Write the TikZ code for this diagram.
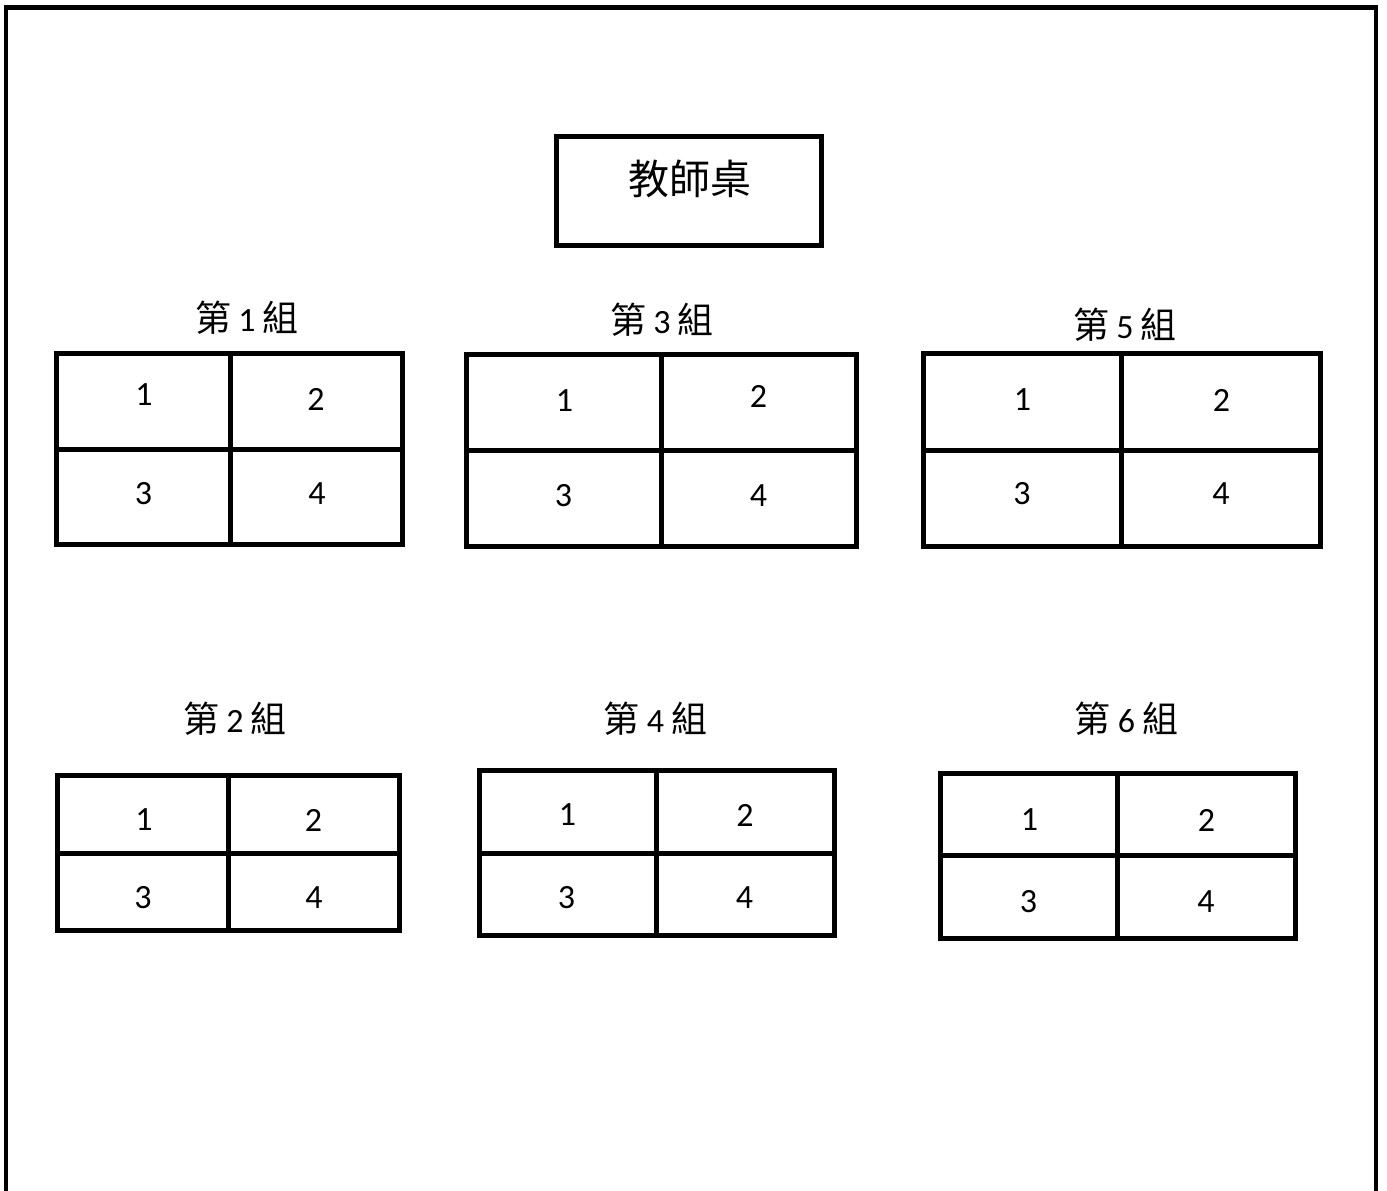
\documentclass[tikz,border=0pt]{standalone}
\usepackage{fontspec}
\setmainfont{Carlito}[Numbers=Lining]
\newfontfamily\cjk{Noto Sans CJK TC}
\begin{document}
\begin{tikzpicture}[x=1pt,y=-1pt,
  frame/.style={line width=4.5pt,line cap=butt},
  desk/.style={line width=5pt,line join=miter},
  seatnum/.style={inner sep=0pt,font=\fontsize{34}{34}\selectfont},
  grouplabel/.style={inner sep=0pt,font=\fontsize{34}{36}\selectfont},
  teacher/.style={inner sep=0pt,font=\cjk\fontsize{41}{41}\selectfont}]
\useasboundingbox (0,0) rectangle (1387,1191);
\fill[white] (0,0) rectangle (1387,1191);
% room outline (open at the bottom)
\draw[frame] (6,1191) -- (6,7.5) -- (1376,7.5) -- (1376,1191);
% teacher's desk
\draw[desk] (556,136.5) rectangle (821,245.5);
\node[teacher] (teacherdesk) at (689.5,179) {教師桌};
% group tables
\newcommand{\deskgrid}[6]{%
  \draw[desk] (#1,#2) rectangle (#5,#6);
  \draw[desk] (#3,#2) -- (#3,#6);
  \draw[desk] (#1,#4) -- (#5,#4);}
\newcommand{\glabel}[1]{{\cjk\fontsize{36}{36}\selectfont 第}\hspace{7pt}#1\hspace{7pt}{\cjk\fontsize{36}{36}\selectfont 組}}
% group 1
\deskgrid{56.5}{353.5}{230}{449.5}{402.5}{544.5}
\node[grouplabel] (g1) at (247,318) {\glabel{1}};
\node[seatnum] (g1s1) at (144,395) {1};
\node[seatnum] (g1s2) at (316,399) {2};
\node[seatnum] (g1s3) at (143.5,493.5) {3};
\node[seatnum] (g1s4) at (317,493.5) {4};
% group 3
\deskgrid{466}{354.5}{661}{450.5}{856}{546}
\node[grouplabel] (g3) at (662,320) {\glabel{3}};
\node[seatnum] (g3s1) at (564.5,401) {1};
\node[seatnum] (g3s2) at (758.5,396) {2};
\node[seatnum] (g3s3) at (563.5,495.5) {3};
\node[seatnum] (g3s4) at (758.5,495.5) {4};
% group 5
\deskgrid{923}{353.5}{1121}{450}{1320.5}{546.5}
\node[grouplabel] (g5) at (1125,325) {\glabel{5}};
\node[seatnum] (g5s1) at (1022.5,400) {1};
\node[seatnum] (g5s2) at (1221.5,400) {2};
\node[seatnum] (g5s3) at (1022,494) {3};
\node[seatnum] (g5s4) at (1221,494) {4};
% group 2
\deskgrid{57.5}{775.5}{228.5}{853.5}{399.5}{930}
\node[grouplabel] (g2) at (235,719) {\glabel{2}};
\node[seatnum] (g2s1) at (144,820) {1};
\node[seatnum] (g2s2) at (313.5,820) {2};
\node[seatnum] (g2s3) at (143,898) {3};
\node[seatnum] (g2s4) at (314,898) {4};
% group 4
\deskgrid{479.5}{770.5}{656.5}{853}{834.5}{935.5}
\node[grouplabel] (g4) at (655.5,719) {\glabel{4}};
\node[seatnum] (g4s1) at (567.5,815) {1};
\node[seatnum] (g4s2) at (745,815) {2};
\node[seatnum] (g4s3) at (566.5,898) {3};
\node[seatnum] (g4s4) at (744.5,898) {4};
% group 6
\deskgrid{940.5}{773.5}{1117.5}{855.5}{1295.5}{938.5}
\node[grouplabel] (g6) at (1126.5,719) {\glabel{6}};
\node[seatnum] (g6s1) at (1029.5,820) {1};
\node[seatnum] (g6s2) at (1206.5,820) {2};
\node[seatnum] (g6s3) at (1028.5,902) {3};
\node[seatnum] (g6s4) at (1206,902) {4};
\end{tikzpicture}
\end{document}
